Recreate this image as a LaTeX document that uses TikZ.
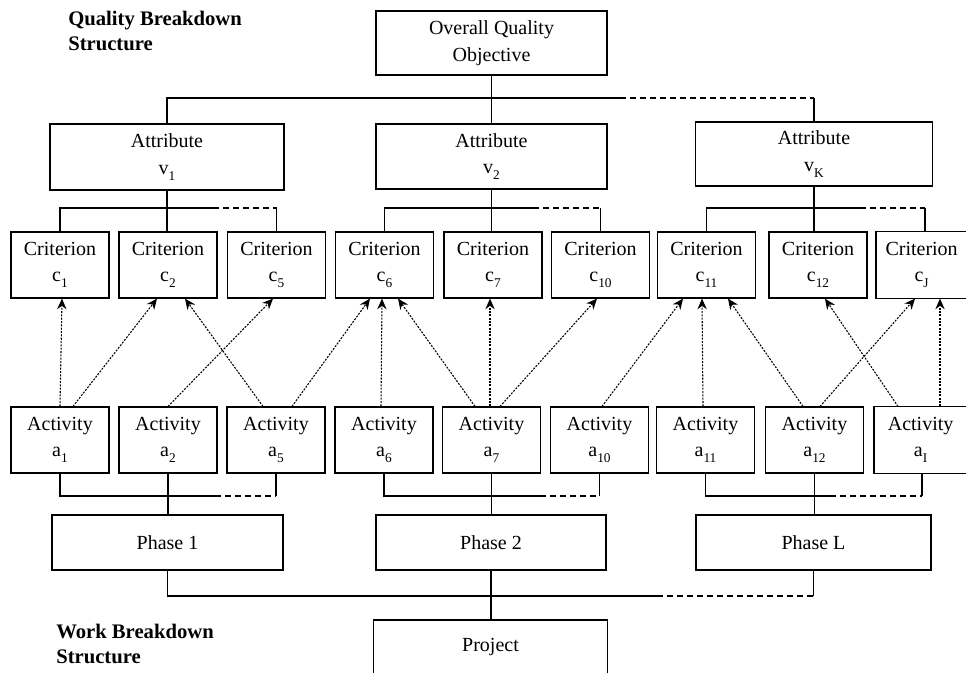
\documentclass[tikz,border=0pt]{standalone}
\usepackage{fontspec}
\setmainfont{Liberation Serif}
\usetikzlibrary{arrows.meta,calc}
\newcommand{\sbx}[1]{\raisebox{-0.3em}{\fontsize{10}{10}\selectfont #1}}
\begin{document}
\begin{tikzpicture}[x=0.75pt,y=-0.75pt,
  box/.style={draw, line width=0.9pt, inner sep=0pt, align=center, font=\fontsize{15}{20}\selectfont},
  nbox/.style={box, draw=none},
  cbox/.style={box, minimum width=73.5pt, minimum height=49.5pt},
  lbl/.style={inner sep=0pt, align=left, anchor=north west, font=\bfseries\fontsize{15.5}{19}\selectfont},
  ln/.style={line width=0.9pt},
  dsh/.style={line width=0.9pt, dash pattern=on 4.5pt off 3pt},
  arr/.style={line width=0.8pt, dash pattern=on 1.5pt off 1pt, -{Stealth[length=8pt,width=7pt]}}]
\useasboundingbox (0,0) rectangle (966,673);

% labels
\node[lbl] (qbs) at (68,11) {Quality Breakdown\\Structure};
\node[lbl] (wbs) at (56,624) {Work Breakdown\\Structure};

% top
\node[box, minimum width=173.25pt, minimum height=48pt] (oqo) at (491.5,43) {Overall Quality\\Objective};
\node[box, minimum width=175.5pt, minimum height=49.5pt] (v1) at (167,157) {Attribute\\v\sbx{1}};
\node[box, minimum width=173.25pt, minimum height=48.75pt] (v2) at (491.5,156.5) {Attribute\\v\sbx{2}};
\node[box, minimum width=177.75pt, minimum height=48pt] (vK) at (814,154) {Attribute\\v\sbx{K}};

% criteria
\node[cbox] (c1) at (60,265) {Criterion\\c\sbx{1}};
\node[cbox] (c2) at (168,265) {Criterion\\c\sbx{2}};
\node[cbox] (c5) at (276.5,265) {Criterion\\c\sbx{5}};
\node[cbox] (c6) at (384.5,265) {Criterion\\c\sbx{6}};
\node[cbox] (c7) at (493,265) {Criterion\\c\sbx{7}};
\node[cbox] (c10) at (600.5,265) {Criterion\\c\sbx{10}};
\node[cbox] (c11) at (706.5,265) {Criterion\\c\sbx{11}};
\node[cbox] (c12) at (818,265) {Criterion\\c\sbx{12}};
\node[nbox, anchor=west, minimum width=67.5pt, minimum height=49.5pt] (cJ) at (876,265) {Criterion\\c\sbx{J}};
\draw[ln] (cJ.north east) -- (cJ.north west) -- (cJ.south west) -- (cJ.south east);

% activities
\node[cbox] (a1) at (60,440) {Activity\\a\sbx{1}};
\node[cbox] (a2) at (168,440) {Activity\\a\sbx{2}};
\node[cbox] (a5) at (276,440) {Activity\\a\sbx{5}};
\node[cbox] (a6) at (384,440) {Activity\\a\sbx{6}};
\node[cbox] (a7) at (491.5,440) {Activity\\a\sbx{7}};
\node[cbox] (a10) at (599.5,440) {Activity\\a\sbx{10}};
\node[cbox] (a11) at (705.5,440) {Activity\\a\sbx{11}};
\node[cbox] (a12) at (814.5,440) {Activity\\a\sbx{12}};
\node[nbox, anchor=west, minimum width=69pt, minimum height=49.5pt] (aI) at (874,440) {Activity\\a\sbx{I}};
\draw[ln] (aI.north east) -- (aI.north west) -- (aI.south west) -- (aI.south east);

% phases
\node[box, minimum width=173.25pt, minimum height=41.25pt] (P1) at (167.5,542.5) {Phase 1};
\node[box, minimum width=172.5pt, minimum height=41.25pt] (P2) at (491,542.5) {Phase 2};
\node[box, minimum width=176.25pt, minimum height=41.25pt] (PL) at (813.5,542.5) {Phase L};
\node[nbox, anchor=north, minimum width=174.75pt, minimum height=39.75pt] (Project) at (490.5,620) {Project};
\draw[ln] (Project.south west) -- (Project.north west) -- (Project.north east) -- (Project.south east);

% quality tree
\coordinate (qd) at (620,98);
\draw[ln] (oqo.south) -- (v2.north);
\draw[ln] (v1.north) |- (qd);
\draw[dsh] (qd) -- (vK.north |- qd);
\draw[ln] (vK.north |- qd) -- (vK.north);

\coordinate (b1) at (213,208);
\draw[ln] (v1.south) -- (v1.south |- c2.north);
\draw[ln] (c1.north) |- (b1);
\draw[dsh] (b1) -- (c5.north |- b1);
\draw[ln] (c5.north |- b1) -- (c5.north);

\coordinate (b2) at (533,208);
\draw[ln] (v2.south) -- (v2.south |- c7.north);
\draw[ln] (c6.north) |- (b2);
\draw[dsh] (b2) -- (c10.north |- b2);
\draw[ln] (c10.north |- b2) -- (c10.north);

\coordinate (b3) at (860,208);
\coordinate (cJt) at (925,232);
\draw[ln] (vK.south) -- (vK.south |- c12.north);
\draw[ln] (c11.north) |- (b3);
\draw[dsh] (b3) -- (cJt |- b3);
\draw[ln] (cJt |- b3) -- (cJt);

% work tree
\coordinate (d1) at (215,496);
\draw[ln] (a2.south) -- (a2.south |- P1.north);
\draw[ln] (a1.south) |- (d1);
\draw[dsh] (d1) -- (a5.south |- d1);
\draw[ln] (a5.south |- d1) -- (a5.south);

\coordinate (d2) at (540,496);
\draw[ln] (a7.south) -- (a7.south |- P2.north);
\draw[ln] (a6.south) |- (d2);
\draw[dsh] (d2) -- (a10.south |- d2);
\draw[ln] (a10.south |- d2) -- (a10.south);

\coordinate (d3) at (830,496);
\coordinate (aIb) at (922,473);
\draw[ln] (a12.south) -- (a12.south |- PL.north);
\draw[ln] (a11.south) |- (d3);
\draw[dsh] (d3) -- (aIb |- d3);
\draw[ln] (aIb |- d3) -- (aIb);

\coordinate (e1) at (657,596);
\draw[ln] (P2.south) -- (P2.south |- Project.north);
\draw[ln] (P1.south) |- (e1);
\draw[dsh] (e1) -- (PL.south |- e1);
\draw[ln] (PL.south |- e1) -- (PL.south);

% contribution arrows
\draw[arr] (a1.north) -- ($(c1.south)+(2,0)$);
\draw[arr] ($(a1.north)+(13,0)$) -- ($(c2.south)+(-11,0)$);
\draw[arr] (a2.north) -- ($(c5.south)+(-3.5,0)$);
\draw[arr] ($(a5.north)+(-13,0)$) -- ($(c2.south)+(17,0)$);
\draw[arr] ($(a5.north)+(16,0)$) -- ($(c6.south)+(-14.5,0)$);
\draw[arr] ($(a6.north)+(-3,0)$) -- ($(c6.south)+(-2.5,0)$);
\draw[arr] ($(a7.north)+(-16.5,0)$) -- ($(c6.south)+(13.5,0)$);
\draw[arr] ($(a7.north)+(-1.5,0)$) -- ($(c7.south)+(-3,0)$);
\draw[arr] ($(a7.north)+(8.5,0)$) -- ($(c10.south)+(-3.5,0)$);
\draw[arr] ($(a10.north)+(2.5,0)$) -- ($(c11.south)+(-23.5,0)$);
\draw[arr] ($(a11.north)+(-2.5,0)$) -- ($(c11.south)+(-4.5,0)$);
\draw[arr] ($(a12.north)+(-11.5,0)$) -- ($(c11.south)+(21.5,0)$);
\draw[arr] ($(a12.north)+(5.5,0)$) -- ($(cJ.south west)+(39,0)$);
\draw[arr] ($(aI.north west)+(24,0)$) -- ($(c12.south)+(7,0)$);
\draw[arr] ($(aI.north west)+(66,0)$) -- ($(cJ.south west)+(64,0)$);
\end{tikzpicture}
\end{document}
